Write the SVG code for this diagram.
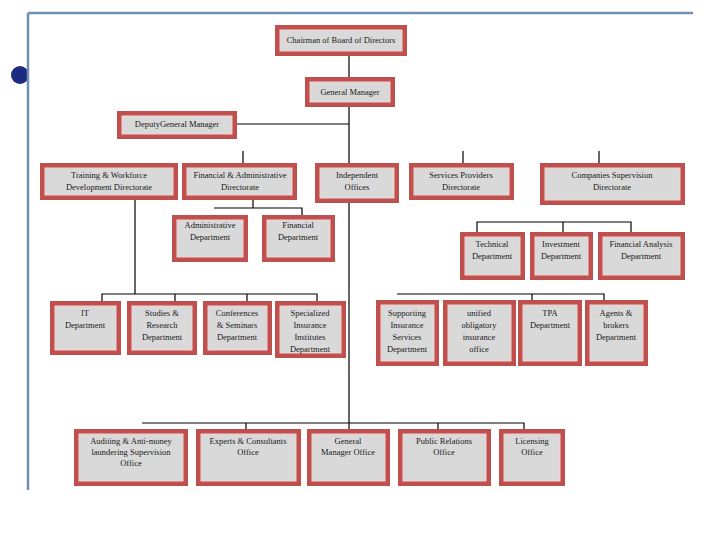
<svg xmlns="http://www.w3.org/2000/svg" width="720" height="540" viewBox="0 0 720 540">
<style>
.o{fill:#c0504d}
.i{fill:#d9d9d9;stroke:#f2d4d2;stroke-width:1}
.t{font-family:"Liberation Serif","Times New Roman",serif;font-size:8.5px;fill:#1a1a1a;text-anchor:middle}
.c{stroke:#000;stroke-width:1.2;fill:none}
</style>
<rect width="720" height="540" fill="#fff"/>
<g id="frame">
<circle cx="20" cy="75" r="9" fill="#1c2a80"/>
<rect x="28" y="60" width="6" height="30" fill="#fff"/>
<path d="M28 13H693M28 13V490" stroke="#6f8fb2" stroke-width="2.5" fill="none"/>
</g>
<g id="connectors" class="c">
<path d="M349 56V77M349 107V429M237 124H349"/>
<path d="M243 151V163M463 151V163M599 151V163"/>
<path d="M253 200V208M214 208H302V216"/>
<path d="M477 232V222H631V232M563 222V232"/>
<path d="M135 200V294M102 301V294H317V301M175 294V301M247 294V301"/>
<path d="M397 294H604V300M532 294V300"/>
<path d="M142 423H524V429M246 423V429M438 423V429"/>
</g>
<g id="chairman"><rect class="o" x="275" y="25" width="132" height="31"/><rect class="i" x="280" y="30" width="122" height="21"/><text class="t" x="341" y="43">Chairman of Board of Directors</text></g>
<g id="gm"><rect class="o" x="305" y="77" width="90" height="30"/><rect class="i" x="310" y="82" width="80" height="20"/><text class="t" x="350" y="95">General Manager</text></g>
<g id="deputy"><rect class="o" x="117" y="111" width="120" height="28"/><rect class="i" x="122" y="116" width="110" height="18"/><text class="t" x="177" y="127">DeputyGeneral Manager</text></g>

<g id="training"><rect class="o" x="40" y="163" width="138" height="37"/><rect class="i" x="45" y="168" width="128" height="27"/><text class="t" x="109" y="178">Training &amp; Workforce</text><text class="t" x="109" y="190">Development Directorate</text></g>
<g id="finadmin"><rect class="o" x="182" y="163" width="115" height="37"/><rect class="i" x="187" y="168" width="105" height="27"/><text class="t" x="240" y="178">Financial &amp; Administrative</text><text class="t" x="240" y="190">Directorate</text></g>
<g id="independent"><rect class="o" x="315" y="163" width="84" height="40"/><rect class="i" x="320" y="168" width="74" height="30"/><text class="t" x="357" y="178">Independent</text><text class="t" x="357" y="190">Offices</text></g>
<g id="services"><rect class="o" x="409" y="163" width="105" height="37"/><rect class="i" x="414" y="168" width="95" height="27"/><text class="t" x="461" y="178">Services Providers</text><text class="t" x="461" y="190">Directorate</text></g>
<g id="companies"><rect class="o" x="540" y="163" width="145" height="42"/><rect class="i" x="545" y="168" width="135" height="32"/><text class="t" x="612" y="178">Companies Supervision</text><text class="t" x="612" y="190">Directorate</text></g>

<g id="admin"><rect class="o" x="172" y="215" width="76" height="47"/><rect class="i" x="177" y="220" width="66" height="37"/><text class="t" x="210" y="228">Administrative</text><text class="t" x="210" y="240">Department</text></g>
<g id="financial"><rect class="o" x="262" y="215" width="73" height="47"/><rect class="i" x="267" y="220" width="63" height="37"/><text class="t" x="298" y="228">Financial</text><text class="t" x="298" y="240">Department</text></g>

<g id="technical"><rect class="o" x="460" y="232" width="65" height="48"/><rect class="i" x="465" y="237" width="55" height="38"/><text class="t" x="492" y="247">Technical</text><text class="t" x="492" y="259">Department</text></g>
<g id="investment"><rect class="o" x="530" y="232" width="63" height="48"/><rect class="i" x="535" y="237" width="53" height="38"/><text class="t" x="561" y="247">Investment</text><text class="t" x="561" y="259">Department</text></g>
<g id="finanalysis"><rect class="o" x="598" y="232" width="87" height="48"/><rect class="i" x="603" y="237" width="77" height="38"/><text class="t" x="641" y="247">Financial Analysis</text><text class="t" x="641" y="259">Department</text></g>

<g id="it"><rect class="o" x="50" y="301" width="71" height="54"/><rect class="i" x="55" y="306" width="61" height="44"/><text class="t" x="85" y="316">IT</text><text class="t" x="85" y="328">Department</text></g>
<g id="studies"><rect class="o" x="127" y="301" width="70" height="54"/><rect class="i" x="132" y="306" width="60" height="44"/><text class="t" x="162" y="316">Studies &amp;</text><text class="t" x="162" y="328">Research</text><text class="t" x="162" y="340">Department</text></g>
<g id="conferences"><rect class="o" x="203" y="301" width="69" height="54"/><rect class="i" x="208" y="306" width="59" height="44"/><text class="t" x="237" y="316">Conferences</text><text class="t" x="237" y="328">&amp; Seminars</text><text class="t" x="237" y="340">Department</text></g>
<g id="specialized"><rect class="o" x="275" y="301" width="71" height="57"/><rect class="i" x="280" y="306" width="61" height="47"/><text class="t" x="310" y="316">Specialized</text><text class="t" x="310" y="328">Insurance</text><text class="t" x="310" y="340">Institutes</text><text class="t" x="310" y="352">Department</text></g>

<g id="supporting"><rect class="o" x="376" y="300" width="63" height="66"/><rect class="i" x="381" y="305" width="53" height="56"/><text class="t" x="407" y="316">Supporting</text><text class="t" x="407" y="328">Insurance</text><text class="t" x="407" y="340">Services</text><text class="t" x="407" y="352">Department</text></g>
<g id="unified"><rect class="o" x="443" y="300" width="73" height="66"/><rect class="i" x="448" y="305" width="63" height="56"/><text class="t" x="479" y="316">unified</text><text class="t" x="479" y="328">obligatory</text><text class="t" x="479" y="340">insurance</text><text class="t" x="479" y="352">office</text></g>
<g id="tpa"><rect class="o" x="518" y="300" width="64" height="66"/><rect class="i" x="523" y="305" width="54" height="56"/><text class="t" x="550" y="316">TPA</text><text class="t" x="550" y="328">Department</text></g>
<g id="agents"><rect class="o" x="585" y="300" width="63" height="66"/><rect class="i" x="590" y="305" width="53" height="56"/><text class="t" x="616" y="316">Agents &amp;</text><text class="t" x="616" y="328">brokers</text><text class="t" x="616" y="340">Department</text></g>

<g id="auditing"><rect class="o" x="74" y="429" width="114" height="57"/><rect class="i" x="79" y="434" width="104" height="47"/><text class="t" x="131" y="444">Auditing &amp; Anti-money</text><text class="t" x="131" y="455">laundering Supervision</text><text class="t" x="131" y="466">Office</text></g>
<g id="experts"><rect class="o" x="196" y="429" width="105" height="57"/><rect class="i" x="201" y="434" width="95" height="47"/><text class="t" x="248" y="444">Experts &amp; Consultants</text><text class="t" x="248" y="455">Office</text></g>
<g id="gmoffice"><rect class="o" x="307" y="429" width="83" height="57"/><rect class="i" x="312" y="434" width="73" height="47"/><text class="t" x="348" y="444">General</text><text class="t" x="348" y="455">Manager Office</text></g>
<g id="pr"><rect class="o" x="398" y="429" width="93" height="57"/><rect class="i" x="403" y="434" width="83" height="47"/><text class="t" x="444" y="444">Public Relations</text><text class="t" x="444" y="455">Office</text></g>
<g id="licensing"><rect class="o" x="499" y="429" width="66" height="57"/><rect class="i" x="504" y="434" width="56" height="47"/><text class="t" x="532" y="444">Licensing</text><text class="t" x="532" y="455">Office</text></g>
</svg>
